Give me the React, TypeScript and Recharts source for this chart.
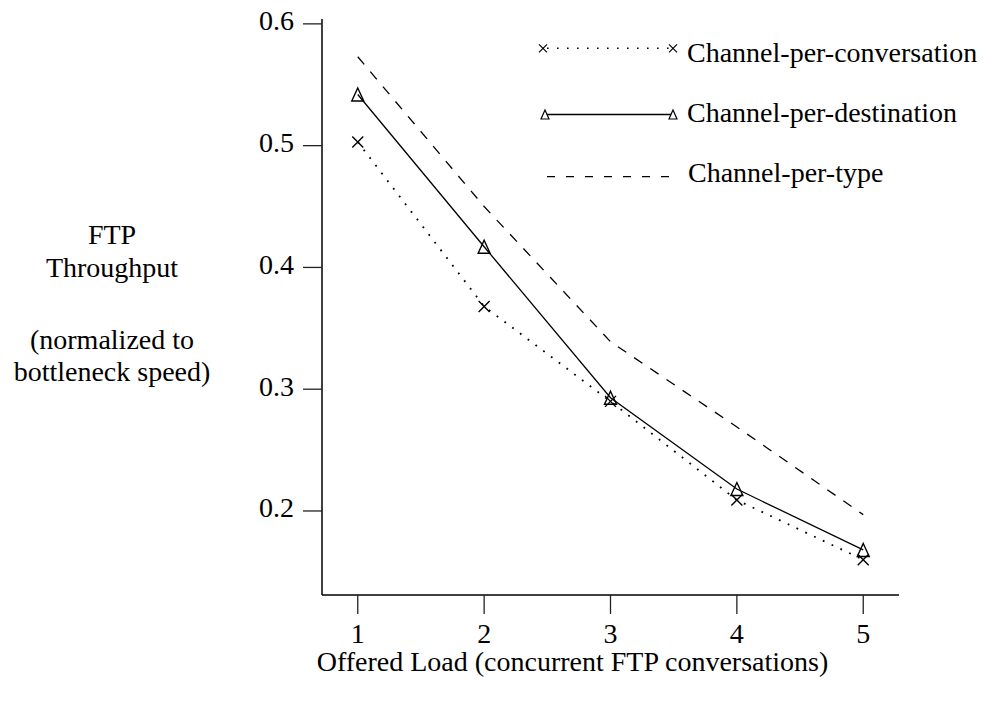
import React from 'react';
import { LineChart, Line, XAxis, YAxis, Legend } from 'recharts';

// Offered load (number of concurrent FTP conversations)
const loads = [1, 2, 3, 4, 5];
// Normalized FTP throughput for each channel allocation scheme
const perConversation = [0.503, 0.368, 0.29, 0.209, 0.16];
const perDestination = [0.542, 0.417, 0.293, 0.218, 0.168];
const perType = [0.573, 0.45, 0.339, 0.269, 0.197];

const seriesNames = ['Channel-per-conversation', 'Channel-per-destination', 'Channel-per-type'];
const xTicks = [1, 2, 3, 4, 5];
const yTicks = [0.2, 0.3, 0.4, 0.5, 0.6];
const yLabelLines = ['FTP', 'Throughput', '(normalized to', 'bottleneck speed)'];
const xLabel = 'Offered Load (concurrent FTP conversations)';

const data = loads.map((load, i) => ({
  load,
  conversation: perConversation[i],
  destination: perDestination[i],
  type: perType[i],
}));

const FONT = '"Liberation Serif", "Times New Roman", serif';
const FS = 28;
const W = 982;
const H = 698;

const crossPath = (cx: number, cy: number, r: number) =>
  `M${cx - r},${cy - r}L${cx + r},${cy + r}M${cx - r},${cy + r}L${cx + r},${cy - r}`;
const trianglePath = (cx: number, cy: number, hw: number, up: number, down: number) =>
  `M${cx},${cy - up}L${cx + hw},${cy + down}L${cx - hw},${cy + down}Z`;

const CrossDot = (props: any) => {
  const { cx, cy, index } = props;
  if (cx == null || cy == null) return <g key={`c-${index}`} />;
  return (
    <path key={`c-${index}`} d={crossPath(cx, cy, 5.5)} stroke="#000" strokeWidth={1.4} fill="none" />
  );
};

const TriangleDot = (props: any) => {
  const { cx, cy, index } = props;
  if (cx == null || cy == null) return <g key={`t-${index}`} />;
  return (
    <path key={`t-${index}`} d={trianglePath(cx, cy, 6, 6.5, 6.5)} stroke="#000" strokeWidth={1.4} fill="none" />
  );
};

const YTick = (props: any) => {
  const { x, y, payload } = props;
  return (
    <text x={x} y={y + 6.5} textAnchor="end" fontFamily={FONT} fontSize={FS} fill="#000">
      {Number(payload.value).toFixed(1)}
    </text>
  );
};

const XTick = (props: any) => {
  const { x, y, payload } = props;
  return (
    <text x={x} y={y + 20} textAnchor="middle" fontFamily={FONT} fontSize={FS} fill="#000">
      {payload.value}
    </text>
  );
};

const YTitle = () => {
  const baselines = [244, 277, 349, 381];
  return (
    <g>
      {yLabelLines.map((t, i) => (
        <text key={t} x={112} y={baselines[i]} textAnchor="middle" fontFamily={FONT} fontSize={FS} fill="#000">
          {t}
        </text>
      ))}
    </g>
  );
};

const XTitle = () => (
  <text x={572.5} y={671} textAnchor="middle" fontFamily={FONT} fontSize={FS} fill="#000">
    {xLabel}
  </text>
);

const LegendContent = () => {
  const textX = 687;
  return (
    <svg width={W} height={210} style={{ display: 'block', overflow: 'visible' }}>
      {/* conversation: dotted with crosses */}
      <line x1={547} y1={48.3} x2={669} y2={48.3} stroke="#000" strokeWidth={1.6} strokeDasharray="1.6 8.4" />
      <path d={crossPath(543, 48.3, 4)} stroke="#000" strokeWidth={1.2} fill="none" />
      <path d={crossPath(673, 48.3, 4)} stroke="#000" strokeWidth={1.2} fill="none" />
      <text x={textX} y={61.5} fontFamily={FONT} fontSize={FS} fill="#000">{seriesNames[0]}</text>

      {/* destination: solid with triangles */}
      <line x1={545} y1={114.5} x2={673} y2={114.5} stroke="#000" strokeWidth={1.3} />
      <path d={trianglePath(545, 115, 4, 5, 4)} stroke="#000" strokeWidth={1.2} fill="#fff" />
      <path d={trianglePath(673, 115, 4, 5, 4)} stroke="#000" strokeWidth={1.2} fill="#fff" />
      <text x={textX} y={122} fontFamily={FONT} fontSize={FS} fill="#000">{seriesNames[1]}</text>

      {/* type: dashed */}
      <line x1={547} y1={176.7} x2={673} y2={176.7} stroke="#000" strokeWidth={1.3} strokeDasharray="8 11" />
      <text x={textX + 1} y={182} fontFamily={FONT} fontSize={FS} fill="#000">{seriesNames[2]}</text>
    </svg>
  );
};

export default function App() {
  return (
    <div style={{ width: W, height: H, background: '#fff', margin: '-8px 0 0 -8px' }}>
      <LineChart
        width={W}
        height={H}
        data={data}
        margin={{ top: 19, right: 83, bottom: 43, left: 242 }}
        style={{ fontFamily: FONT }}
      >
        <XAxis
          dataKey="load"
          type="number"
          domain={[0.717, 5.283]}
          ticks={xTicks}
          allowDataOverflow
          height={60}
          tickSize={19}
          tickMargin={9}
          tick={<XTick />}
          axisLine={{ stroke: '#000', strokeWidth: 1.5 }}
          tickLine={{ stroke: '#222', strokeWidth: 1.3 }}
        />
        <YAxis
          type="number"
          domain={[0.131, 0.604]}
          ticks={yTicks}
          allowDataOverflow
          width={80}
          tickSize={19}
          tickMargin={9}
          tick={<YTick />}
          axisLine={{ stroke: '#000', strokeWidth: 1.5 }}
          tickLine={{ stroke: '#222', strokeWidth: 1.3 }}
        />
        <Legend
          layout="horizontal"
          verticalAlign="middle"
          align="center"
          content={<LegendContent />}
          wrapperStyle={{ left: 0, top: 0, width: W, height: 210 }}
        />
        <Line
          type="linear"
          dataKey="type"
          name={seriesNames[2]}
          stroke="#000"
          strokeWidth={1.3}
          strokeDasharray="10 9.5"
          dot={false}
          activeDot={false}
          isAnimationActive={false}
        />
        <Line
          type="linear"
          dataKey="destination"
          name={seriesNames[1]}
          stroke="#000"
          strokeWidth={1.3}
          dot={<TriangleDot />}
          activeDot={false}
          isAnimationActive={false}
        />
        <Line
          type="linear"
          dataKey="conversation"
          name={seriesNames[0]}
          stroke="#000"
          strokeWidth={1.8}
          strokeDasharray="1.8 7.9"
          dot={<CrossDot />}
          activeDot={false}
          isAnimationActive={false}
        />
        <YTitle />
        <XTitle />
      </LineChart>
    </div>
  );
}
